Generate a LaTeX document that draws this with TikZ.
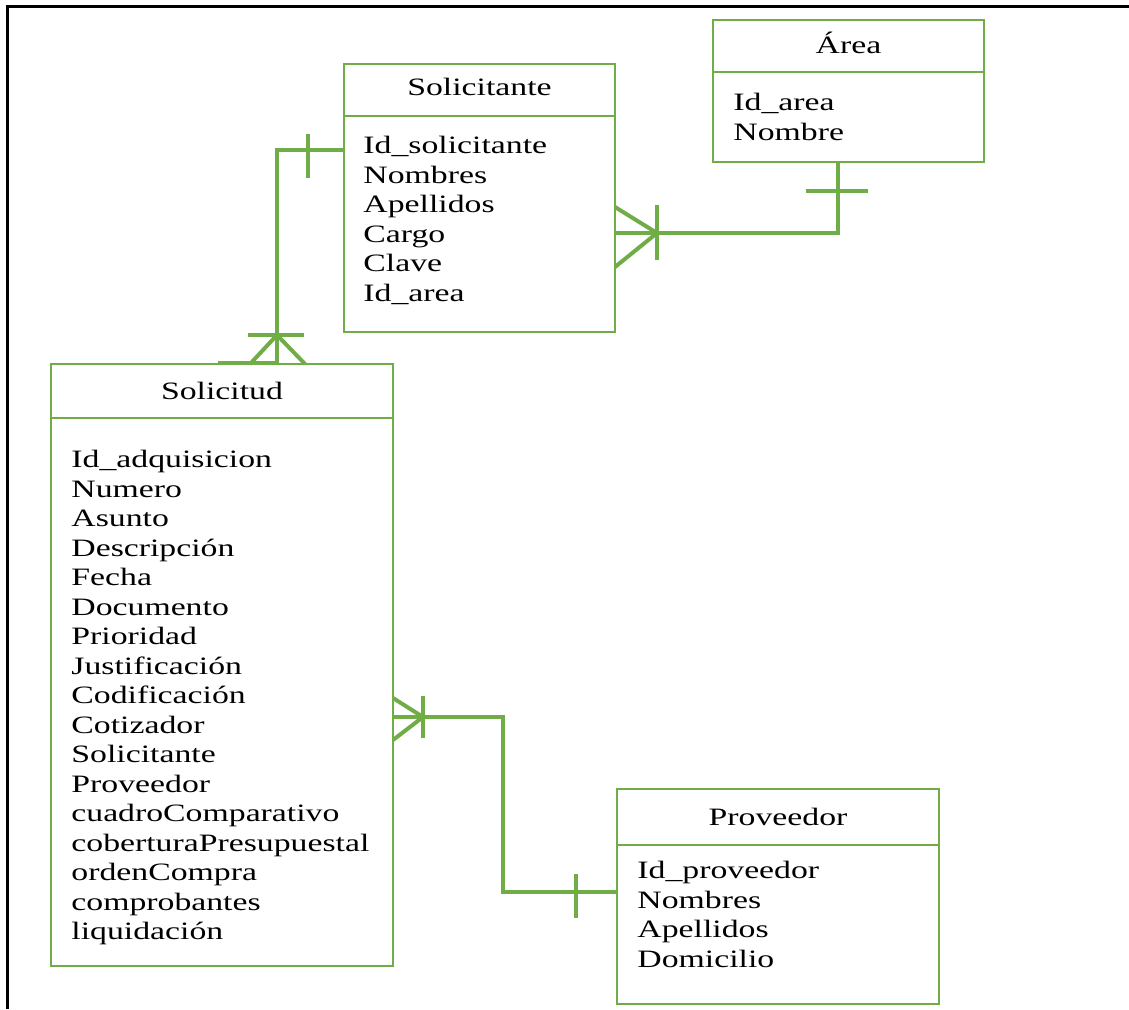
\documentclass[tikz,border=0pt]{standalone}
\usepackage{fontspec}
\setmainfont{Liberation Serif}[FakeStretch=1.35]
\usepackage{tikz}
\definecolor{verde}{RGB}{112,173,71}
\tikzset{x=0.5pt,y=-0.5pt}

\begin{document}
\begin{tikzpicture}
                \tikzset{caja/.style={draw=verde,line width=1pt,anchor=north west,inner sep=0pt,outer sep=0pt},
                         rel/.style={draw=verde,line width=2pt},
                         campos/.style={anchor=north west,align=left,inner sep=0pt,font=\fontsize{12.5}{14.75}\selectfont},
                         titulo/.style={anchor=base,inner sep=0pt,font=\fontsize{12.5}{14.75}\selectfont}}
                \useasboundingbox (0,0) rectangle (1129,1009);
                \draw[line width=1.5pt] (7,1009) -- (7,6) -- (1129,6);
                \node[caja,minimum width=135.5pt,minimum height=134pt] (solte) at (344,64) {};
                \node[caja,minimum width=135.5pt,minimum height=71pt] (area) at (713,20) {};
                \node[caja,minimum width=171pt,minimum height=301pt] (solud) at (51,364) {};
                \node[caja,minimum width=161pt,minimum height=107.5pt] (prov) at (617,789) {};
                \draw[verde,line width=1pt] ([yshift=-26pt]solte.north west) -- ([yshift=-26pt]solte.north east);
                \draw[verde,line width=1pt] ([yshift=-26pt]area.north west) -- ([yshift=-26pt]area.north east);
                \draw[verde,line width=1pt] ([yshift=-27pt]solud.north west) -- ([yshift=-27pt]solud.north east);
                \draw[verde,line width=1pt] ([yshift=-28pt]prov.north west) -- ([yshift=-28pt]prov.north east);
                \node[titulo] (solte-t) at (479.5,95) {Solicitante};
                \node[titulo] (area-t) at (848.5,53) {Área};
                \node[titulo] (solud-t) at (222,399) {Solicitud};
                \node[titulo] (prov-t) at (778,825) {Proveedor};
                \node[campos] (solte-c) at (363,136) {Id\_solicitante\\Nombres\\Apellidos\\Cargo\\Clave\\Id\_area};
                \node[campos] (area-c) at (733,93) {Id\_area\\Nombre};
                \node[campos] (solud-c) at (71,450) {Id\_adquisicion\\Numero\\Asunto\\Descripción\\Fecha\\Documento\\Prioridad\\Justificación\\Codificación\\Cotizador\\Solicitante\\Proveedor\\cuadroComparativo\\coberturaPresupuestal\\ordenCompra\\comprobantes\\liquidación};
                \node[campos] (prov-c) at (637,861) {Id\_proveedor\\Nombres\\Apellidos\\Domicilio};
                \coordinate (c1) at ([yshift=-43pt]solte.north west);
                \coordinate (c2) at ([xshift=113pt]solud.north west);
                \coordinate (c3) at ([yshift=-84.5pt]solte.north east);
                \coordinate (c4) at ([xshift=62.5pt]area.south west);
                \coordinate (c5) at ([yshift=-176.5pt]solud.north east);
                \coordinate (c6) at ([yshift=-51.5pt]prov.north west);
                \draw[rel] (c1) -| (c2);
                \draw[rel] ([shift={(-36,-16)}]c1) -- ++(0,44);
                \draw[rel] ([shift={(-27,0)}]c2) -- ([shift={(0,-29)}]c2) -- ([shift={(28,0)}]c2);
                \draw[rel] ([shift={(-29,-29)}]c2) -- ++(56,0);
                \draw[rel] ([shift={(-59,-1)}]c2) -- ++(59,0);
                \draw[rel] (c3) -| (c4);
                \draw[rel] ([shift={(0,-26)}]c3) -- ([shift={(42,0)}]c3) -- ([shift={(0,34)}]c3);
                \draw[rel] ([shift={(42,-28)}]c3) -- ++(0,55);
                \draw[rel] ([shift={(-32,29)}]c4) -- ++(62,0);
                \draw[rel] (c5) -- ++(110,0) |- (c6);
                \draw[rel] ([shift={(0,-19)}]c5) -- ([shift={(30,0)}]c5) -- ([shift={(0,23)}]c5);
                \draw[rel] ([shift={(30,-21)}]c5) -- ++(0,42);
                \draw[rel] ([shift={(-41,-18)}]c6) -- ++(0,44);
            \end{tikzpicture}
\end{document}
